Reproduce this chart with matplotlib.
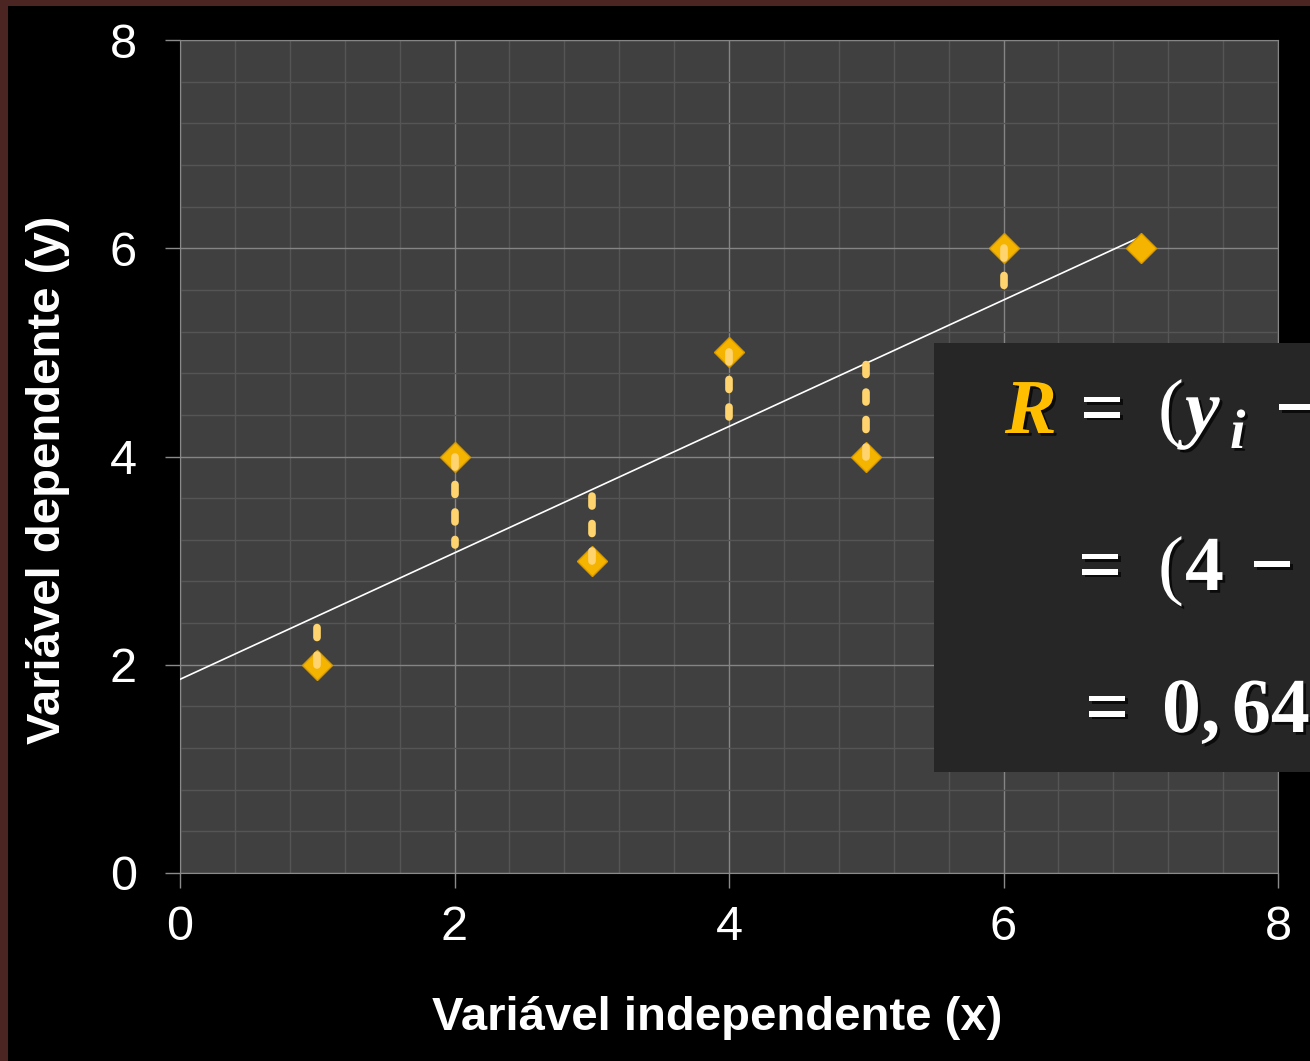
import numpy as np
import matplotlib
matplotlib.use("Agg")
from matplotlib import pyplot as plt
from matplotlib.patches import Rectangle
import matplotlib.patheffects as pe

# data
x_vals = [1, 2, 3, 4, 5, 6, 7]
y_vals = [2, 4, 3, 5, 4, 6, 6]
# where each dashed residual stops (near the fitted line)
resid_end = [2.51, 3.15, 3.73, 4.38, 4.96, 5.63, 6.0]
line_x = [0, 7]
line_y = [1.86, 6.11]
ticks = [0, 2, 4, 6, 8]

W, H = 1310, 1061

plt.rcParams['font.family'] = ['Liberation Sans', 'DejaVu Sans']


def px(x, y):
    return x / W, 1 - y / H


fig = plt.figure(figsize=(W / 100, H / 100), dpi=100, facecolor='black')
ax = fig.add_axes([180 / W, (H - 873) / H, (1278 - 180) / W, (873 - 40) / H])
ax.set_facecolor('#404040')

ax.set_xlim(0, 8)
ax.set_ylim(0, 8)
ax.set_xticks(ticks)
ax.set_yticks(ticks)
ax.set_xticks(np.arange(0, 8.01, 0.4), minor=True)
ax.set_yticks(np.arange(0, 8.01, 0.4), minor=True)
ax.grid(which='major', color='#858585', lw=1.0, zorder=0)
ax.grid(which='minor', color='#555555', lw=1.0, zorder=0)
ax.set_axisbelow(True)
ax.tick_params(which='major', direction='out', length=11, width=1, color='#8a8a8a',
               labelcolor='white', labelsize=35)
ax.tick_params(which='minor', length=0)
ax.tick_params(axis='x', pad=12)
ax.tick_params(axis='y', pad=20)
for s in ['left', 'bottom']:
    ax.spines[s].set_color('#8a8a8a')
for s in ['top', 'right']:
    ax.spines[s].set_color('#858585')

# regression line
ax.plot(line_x, line_y, color='white', lw=1.2, zorder=3)

# points
ax.plot(x_vals, y_vals, linestyle='none', marker='D', ms=15, color='#f4b400',
        mec='#d69a00', mew=1, zorder=4)

# residuals
for xi, yi, ye in zip(x_vals, y_vals, resid_end):
    if abs(ye - yi) < 0.2:
        continue
    ax.plot([xi, xi], [yi, ye], color='#ffd46e', lw=5.5, linestyle=(0, (1.3, 2.3)),
            dash_capstyle='round', zorder=5)

# axis titles
fig.text(*px(717, 1018), 'Variável independente (x)', color='white', fontsize=34,
         fontweight='bold', ha='center', va='center')
fig.text(*px(48, 480), 'Variável dependente (y)', color='white', fontsize=34,
         fontweight='bold', ha='center', va='center', rotation=90)

# border strips
fig.add_artist(Rectangle((0, 0), 8 / W, 1, transform=fig.transFigure,
                         color='#4a2522', lw=0))
fig.add_artist(Rectangle((0, 1 - 6 / H), 1, 6 / H, transform=fig.transFigure,
                         color='#4a2522', lw=0))

# formula box
fig.add_artist(Rectangle(px(934, 772), (W - 934 + 20) / W, (772 - 343) / H,
                         transform=fig.transFigure, color='#262626', lw=0, zorder=5))

shadow = [pe.SimplePatchShadow(offset=(2, -2), shadow_rgbFace='black', alpha=0.7), pe.Normal()]
fs = 56
serif = ['Liberation Serif', 'DejaVu Serif']


def piece(x, y, s, color='white', size=fs, style='normal', weight='bold'):
    fig.text(*px(x, y), s, color=color, fontsize=size, ha='left', va='baseline',
             family=serif, fontstyle=style, fontweight=weight, zorder=6,
             path_effects=shadow)


# line 1: R = (y_i -   (cut at the right edge, as in the reference)
piece(1005, 433, 'R', color='#ffbf00', style='italic')
piece(1080, 433, '=')
piece(1158, 433, '(', weight='normal')
piece(1185, 433, 'y', style='italic')
piece(1230, 448, 'i', size=40, style='italic')
piece(1275, 433, '\u2212')
# line 2: = (4 -
piece(1078, 590, '=')
piece(1158, 590, '(', weight='normal')
piece(1185, 590, '4')
piece(1250, 590, '\u2212')
# line 3: = 0,64
piece(1085, 732, '=')
piece(1162, 732, '0,')
piece(1232, 732, '64')

fig.savefig('out.png', dpi=100, facecolor='black')
